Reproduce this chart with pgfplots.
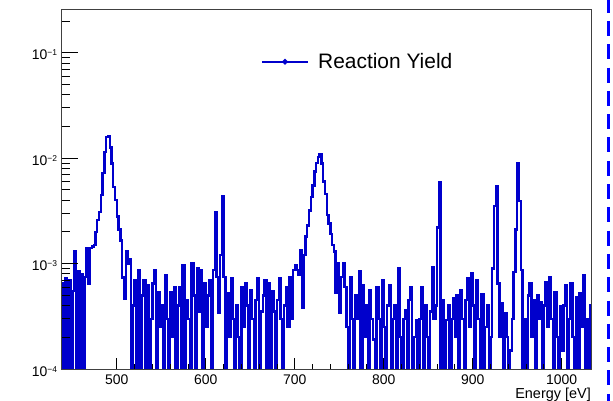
\documentclass[border=0pt]{standalone}
\usepackage{pgfplots}
\pgfplotsset{compat=1.18}
\usepackage{fontspec}
\setmainfont{Liberation Sans}
\definecolor{rootblue}{rgb}{0,0,0.8}
\definecolor{dashblue}{rgb}{0,0,1}
\begin{document}
\begin{tikzpicture}
\path[use as bounding box] (0bp,0bp) rectangle (613bp,401bp);
\begin{axis}[
  at={(61.7bp,32bp)}, anchor=south west,
  width=529.3bp, height=360bp, scale only axis,
  xmin=438, xmax=1033, ymin=1e-4, ymax=0.26, ymode=log,
  axis on top,
  axis line style={black!75, line width=0.8bp},
  xtick={500,600,700,800,900,1000},
  minor x tick num=4,
  ytick=\empty,
  xtick pos=left,
  tick align=inside,
  major tick length=11bp, minor tick length=5.5bp,
  every tick/.style={black, line width=0.8bp},
  /pgf/number format/assume math mode=true,
  /pgf/number format/1000 sep={},
  xticklabel style={font=\fontsize{14}{16}\selectfont, anchor=base, inner sep=0pt, yshift=-15bp},
  xlabel={Energy [eV]},
  xlabel style={at={(axis description cs:1,0)}, anchor=base east, inner sep=0pt, yshift=-29bp, font=\fontsize{14.5}{16}\selectfont},
  legend style={at={(0.3765,0.8536)}, anchor=west, draw=none, fill=none,
    font=\fontsize{21}{24}\selectfont, inner sep=0pt, outer sep=0pt,
    nodes={inner sep=0pt}},
  legend image code/.code={\draw[rootblue, line width=2bp] (0bp,0bp) -- (46bp,0bp);
    \fill[rootblue] (23bp,0bp) circle (1.4bp); \path (55bp,0bp);},
]
\addplot[rootblue, line width=2.4bp, const plot mark left, mark=none] coordinates {
(438,6.5e-4)(440,1e-6)(442,7.2e-4)(444,1e-6)(446,7e-4)(448,1e-6)(450,5.5e-4)(452,13e-4)(454,1e-6)(456,8.5e-4)(458,1e-6)(460,8e-4)(462,1e-6)(464,7.5e-4)
(466,14e-4)(468,6.5e-4)(470,14e-4)(472,14.5e-4)(474,15e-4)(476,20e-4)(478,26e-4)(480,31e-4)(482,45e-4)(484,72e-4)(486,115e-4)(488,158e-4)(490,163e-4)(492,126e-4)(494,89e-4)(496,53e-4)(498,40e-4)(500,28e-4)(502,21e-4)(504,16.5e-4)(506,7.4e-4)(508,4.6e-4)(510,13e-4)(512,10e-4)
(514,11e-4)(516,1e-6)(518,4e-4)(520,7e-4)(522,1e-6)(524,8.7e-4)(526,1e-6)(528,5e-4)(530,7e-4)(532,1e-6)(534,6.2e-4)(536,1e-6)(538,3e-4)(540,6.5e-4)(542,8.7e-4)(544,1e-6)(546,5.3e-4)(548,2.5e-4)(550,4e-4)(552,1e-6)(554,7.8e-4)(556,3e-4)(558,1e-6)(560,5.3e-4)(562,2e-4)(564,6e-4)(566,1e-6)(568,4e-4)(570,6e-4)(572,1e-6)(574,9.7e-4)(576,1e-6)(578,4.5e-4)(580,3e-4)(582,1e-6)(584,10e-4)(586,5e-4)(588,1e-6)(590,9e-4)(592,3.5e-4)(594,8.7e-4)(596,1e-6)(598,6.5e-4)(600,2.5e-4)(602,5e-4)(604,7e-4)(606,1e-6)(608,8.7e-4)(610,31e-4)(612,7.5e-4)(614,3.4e-4)(616,12e-4)(618,44e-4)(620,7.5e-4)(622,1e-6)
(624,5.2e-4)(626,2e-4)(628,7.3e-4)(630,3e-4)(632,1e-6)(634,4e-4)(636,2e-4)(638,1e-6)(640,6e-4)(642,2.5e-4)(644,6.5e-4)(646,4e-4)(648,1e-6)(650,5.6e-4)(652,3e-4)(654,1e-6)(656,4.5e-4)(658,7.3e-4)(660,1e-6)(662,3.5e-4)(664,5e-4)(666,7e-4)(668,1e-6)(670,6.5e-4)(672,1e-6)(674,5.5e-4)(676,3.5e-4)(678,1e-6)(680,4.5e-4)(682,7.3e-4)(684,3e-4)(686,1e-6)(688,4e-4)(690,6e-4)(692,2.5e-4)(694,7.5e-4)(696,3e-4)(698,8.7e-4)
(700,9.7e-4)(702,8.7e-4)(704,7.8e-4)(706,13.5e-4)(708,3.8e-4)(710,12e-4)(712,18e-4)(714,23e-4)(716,32e-4)(718,43e-4)(720,55e-4)(722,75e-4)(724,90e-4)(726,102e-4)(728,110e-4)(730,89e-4)(732,60e-4)(734,46e-4)(736,29e-4)(738,24e-4)(740,19e-4)(742,15e-4)(744,13e-4)(746,5.3e-4)(748,10e-4)(750,3.4e-4)(752,7.5e-4)(754,10e-4)(756,6e-4)(758,2.5e-4)
(760,1e-6)(762,7.5e-4)(764,3e-4)(766,1e-6)(768,5e-4)(770,3e-4)(772,8.4e-4)(774,1e-6)(776,6.2e-4)(778,2e-4)(780,4e-4)(782,1e-6)(784,5.6e-4)(786,3e-4)(788,1.9e-4)(790,1e-6)(792,6e-4)(794,3e-4)(796,1e-6)(798,7e-4)(800,2.5e-4)(802,1e-6)(804,4e-4)(806,6.2e-4)(808,1e-6)(810,3e-4)(812,4e-4)(814,1e-6)(816,9e-4)(818,2e-4)(820,1e-6)(822,3e-4)(824,3.6e-4)(826,1e-6)(828,4.5e-4)(830,6e-4)(832,1e-6)(834,2e-4)(836,2.9e-4)(838,1e-6)(840,3e-4)(842,6e-4)(844,1e-6)(846,4e-4)(848,2e-4)(850,1e-6)(852,3.5e-4)(854,9.3e-4)(856,3e-4)(858,4e-4)(860,22e-4)(862,59e-4)(864,1e-6)
(866,4.5e-4)(868,1e-6)(870,2.9e-4)(872,4e-4)(874,1e-6)(876,3e-4)(878,4.7e-4)(880,2e-4)(882,5e-4)(884,1e-6)(886,5.6e-4)(888,3e-4)(890,1e-6)(892,4.5e-4)(894,7.3e-4)(896,2.5e-4)(898,8.1e-4)(900,4e-4)(902,1e-6)(904,7e-4)(906,3e-4)(908,1e-6)(910,5.1e-4)(912,1e-6)(914,2.5e-4)(916,4e-4)(918,1e-6)(920,2e-4)(922,9e-4)(924,35e-4)(926,54e-4)(928,6.5e-4)(930,2e-4)(932,4.2e-4)(934,1e-6)(936,3.4e-4)(938,2e-4)(940,1e-6)(942,1.5e-4)(944,3e-4)(946,8.3e-4)(948,21e-4)(950,89e-4)(952,39e-4)(954,8.7e-4)(956,1e-6)(958,3e-4)(960,1e-6)(962,5e-4)(964,6.5e-4)(966,2e-4)(968,4.5e-4)(970,1e-6)(972,5e-4)(974,3e-4)(976,4.3e-4)(978,1e-6)(980,4e-4)(982,6.7e-4)(984,2.5e-4)(986,7.4e-4)(988,3e-4)(990,1e-6)(992,5.3e-4)(994,2e-4)(996,1e-6)(998,3.9e-4)(1000,1.5e-4)(1002,4e-4)(1004,6.2e-4)(1006,1e-6)(1008,3e-4)(1010,6.5e-4)(1012,2e-4)(1014,1e-6)(1016,4.8e-4)(1018,1e-6)(1020,5.2e-4)(1022,2.5e-4)(1024,7.8e-4)(1026,1e-6)(1028,3e-4)(1030,1e-6)(1032,4e-4)(1034,4e-4)(1036,4e-4)
};
\addlegendentry{Reaction Yield}
\end{axis}
\begin{axis}[
  at={(61.7bp,32bp)}, anchor=south west,
  width=529.3bp, height=360bp, scale only axis,
  xmin=438, xmax=1033, ymin=1e-4, ymax=0.26, ymode=log,
  axis line style={black!75, line width=0.8bp},
  xtick=\empty,
  ytick={1e-4,1e-3,1e-2,1e-1},
  minor ytick={2e-4,3e-4,4e-4,5e-4,6e-4,7e-4,8e-4,9e-4,2e-3,3e-3,4e-3,5e-3,6e-3,7e-3,8e-3,9e-3,2e-2,3e-2,4e-2,5e-2,6e-2,7e-2,8e-2,9e-2,2e-1},
  yticklabels={{10\raisebox{4bp}{\fontsize{8.5}{9}\selectfont −4}},{10\raisebox{4bp}{\fontsize{8.5}{9}\selectfont −3}},{10\raisebox{4bp}{\fontsize{8.5}{9}\selectfont −2}},{10\raisebox{4bp}{\fontsize{8.5}{9}\selectfont −1}}},
  ytick pos=left,
  tick align=inside,
  major tick length=16bp, minor tick length=8bp,
  every tick/.style={black, line width=0.8bp},
  yticklabel style={anchor=base east, inner sep=0pt, xshift=-4.4bp, yshift=-7bp, font=\fontsize{14}{16}\selectfont},
]
\end{axis}
\draw[dashblue, line width=3bp, dash pattern=on 15bp off 8.3bp, dash phase=2.3bp] (608.3bp,401bp) -- (608.3bp,0bp);
\end{tikzpicture}
\end{document}
